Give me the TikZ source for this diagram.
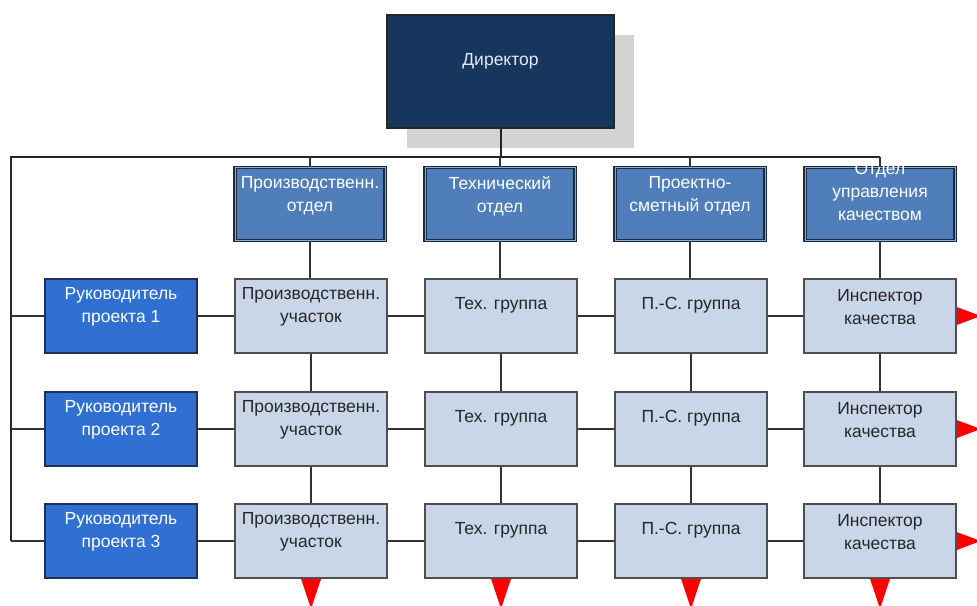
\documentclass[tikz,border=0pt]{standalone}
\usepackage{fontspec}
\setmainfont{Liberation Sans}
\definecolor{dirfill}{HTML}{17365D}
\definecolor{dirtext}{HTML}{E4EAF2}
\definecolor{deptfill}{HTML}{4F7EBB}
\definecolor{deptline}{HTML}{1C2B45}
\definecolor{deptinner}{HTML}{8AA8D0}
\definecolor{rukfill}{HTML}{2F70D2}
\definecolor{rukline}{HTML}{1E3154}
\definecolor{lightfill}{HTML}{C9D6E8}
\definecolor{lightline}{HTML}{4F4F4F}
\definecolor{conn}{HTML}{333333}
\definecolor{shadowc}{HTML}{D3D3D3}
\definecolor{redtri}{HTML}{FF0000}
\begin{document}
\begin{tikzpicture}[x=1pt,y=-1pt,
  every node/.style={font=\fontsize{17.5}{23}\selectfont},
  dirbox/.style={draw=black!85,line width=2.5pt,fill=dirfill,minimum width=227pt,minimum height=113pt,inner sep=0pt},
  deptbox/.style={draw=deptline,line width=1.3pt,double=deptinner,double distance=0.8pt,fill=deptfill,minimum width=150pt,minimum height=73pt,inner sep=0pt},
  rukbox/.style={draw=rukline,line width=1.5pt,fill=rukfill,minimum width=152pt,minimum height=74pt,inner sep=0pt},
  lbox/.style={draw=lightline,line width=1.5pt,fill=lightfill,minimum width=152pt,minimum height=74pt,inner sep=0pt},
  wtxt/.style={text=white,align=center,inner sep=0pt},
  dtxt/.style={text=black!85,align=center,inner sep=0pt},
  con/.style={draw=conn,line width=1.8pt},
  main/.style={draw=black!85,line width=2pt},
  tri/.style={fill=redtri}
]
\useasboundingbox (0,0) rectangle (977,605);

% director with shadow
\fill[shadowc] (407,35) rectangle (634,148);
\node[dirbox] (dir) at (500.5,71.5) {};
\node[wtxt,text=dirtext] (dirt) at ([yshift=10pt]dir.center) {Директор};

% departments
\node[deptbox] (d1) at (310,204) {};
\node[deptbox] (d2) at (500,204) {};
\node[deptbox] (d3) at (690,204) {};
\node[deptbox] (d4) at (880,204) {};
\node[wtxt] (d1t) at ([yshift=8pt]d1.center) {Производственн.\\отдел};
\node[wtxt] (d2t) at ([yshift=8pt]d2.center) {Технический\\отдел};
\node[wtxt] (d3t) at ([yshift=8pt]d3.center) {Проектно-\\сметный отдел};
\node[wtxt] (d4t) at ([yshift=13pt]d4.center) {Отдел\\управления\\качеством};

% rows
\foreach \r/\y in {1/316,2/429,3/541}{
  \node[rukbox] (r\r) at (121,\y) {};
  \node[lbox] (a\r) at (311,\y) {};
  \node[lbox] (b\r) at (501,\y) {};
  \node[lbox] (c\r) at (691,\y) {};
  \node[lbox] (q\r) at (880,\y) {};
  \node[wtxt] (r\r t) at ([yshift=9pt]r\r.center) {Руководитель\\проекта \r};
  \node[dtxt] (a\r t) at ([yshift=9pt]a\r.center) {Производственн.\\участок};
  \node[dtxt] (b\r t) at ([yshift=11pt]b\r.center) {Тех. группа};
  \node[dtxt] (c\r t) at ([yshift=11pt]c\r.center) {П.-С. группа};
  \node[dtxt] (q\r t) at ([yshift=9pt]q\r.center) {Инспектор\\качества};
}

% main bus
\coordinate (busL) at (11,157);
\coordinate (busR) at (880,157);
\coordinate (leftB) at (11,541);
\draw[main] (dir.south) -- (dir.south |- busL);
\draw[main] (leftB) -- (busL) -- (busR);
\foreach \d in {d1,d2,d3,d4}{
  \draw[con] (\d.north |- busL) -- (\d.north);
}
\draw[con] (d1.south) -- (d1.south |- a1.north);
\draw[con] (d2.south) -- (d2.south |- b1.north);
\draw[con] (d3.south) -- (d3.south |- c1.north);
\draw[con] (d4.south) -- (d4.south |- q1.north);
\foreach \x in {a,b,c,q}{
  \draw[con] (\x1.south) -- (\x1.south |- \x2.north);
  \draw[con] (\x2.south) -- (\x2.south |- \x3.north);
}
\foreach \r in {1,2,3}{
  \draw[con] (busL |- r\r.west) -- (r\r.west);
  \draw[con] (r\r.east) -- (a\r.west);
  \draw[con] (a\r.east) -- (b\r.west);
  \draw[con] (b\r.east) -- (c\r.west);
  \draw[con] (c\r.east) -- (q\r.west);
  \coordinate (e\r) at ([xshift=24pt]q\r.east);
  \fill[tri] ([yshift=9pt]q\r.east) -- (e\r) -- ([yshift=-9pt]q\r.east) -- cycle;
}
\foreach \x in {a,b,c,q}{
  \coordinate (\x b) at ([yshift=-30pt]\x3.south);
  \fill[tri] ([xshift=-10pt]\x3.south) -- (\x b) -- ([xshift=10pt]\x3.south) -- cycle;
}
\end{tikzpicture}
\end{document}
